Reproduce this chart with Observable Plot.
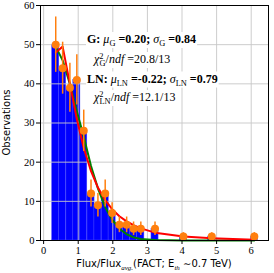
<!DOCTYPE html>
<html><head><meta charset="utf-8">
<script src="https://cdn.jsdelivr.net/npm/d3@7"></script>
<script src="https://cdn.jsdelivr.net/npm/@observablehq/plot@0.6"></script>
<style>body{margin:0;background:#fff} #chart svg{display:block}</style>
</head><body><div id="chart"></div>
<script>
const binCenters = [0.35, 0.55, 0.76, 0.96, 1.16, 1.37, 1.57, 1.78, 1.98, 2.19, 2.40, 2.60, 2.81, 3.22, 4.04, 4.86, 6.09];
const counts     = [50, 44, 39, 41, 28, 12, 9, 12, 7, 4, 4, 3, 3, 3, 1, 1, 1];
const binWidth = 0.205;
const gaussFit = [49.5, 46, 40, 33, 26.5, 19, 13.3, 8.5, 5.3, 3.0, 1.6, 0.8, 0.4, 0.1, 0, 0, 0];
const lognFit  = [48, 49.5, 40, 31, 23.6, 17.7, 13.5, 10.3, 8.0, 6.2, 4.9, 3.9, 3.1, 2.0, 1.0, 0.6, 0.2];
const xTicks = [0, 1, 2, 3, 4, 5, 6];
const yTicks = [0, 10, 20, 30, 40, 50, 60];

const rows = binCenters.map((x, i) => ({
  x, n: counts[i], lo: x - binWidth / 2, hi: x + binWidth / 2,
  err: Math.sqrt(counts[i]), g: gaussFit[i], ln: lognFit[i]
}));

const svg = Plot.plot({
  width: 274, height: 273,
  marginLeft: 40, marginRight: 6, marginTop: 5, marginBottom: 33,
  style: {fontFamily: "'Liberation Serif', serif", fontSize: "10.5px", color: "black", background: "white"},
  x: {domain: [-0.09, 6.5], label: null},
  y: {domain: [0, 60], label: null},
  marks: [
    Plot.rectY(rows, {x1: "lo", x2: "hi", y: "n", fill: "#0000ff", stroke: "#4a4aff", strokeWidth: 0.5}),
    Plot.gridX(xTicks, {stroke: "#c8c8c8", strokeOpacity: 0.9}),
    Plot.gridY(yTicks, {stroke: "#c8c8c8", strokeOpacity: 0.9}),
    Plot.line(rows, {x: "x", y: "g", stroke: "green", strokeWidth: 2}),
    Plot.line(rows, {x: "x", y: "ln", stroke: "red", strokeWidth: 2}),
    Plot.ruleX(rows, {x: "x", y1: d => d.n - d.err, y2: d => d.n + d.err, stroke: "#ff7f0e", strokeWidth: 1.5}),
    Plot.dot(rows, {x: "x", y: "n", r: 4, fill: "#ff7f0e", stroke: "none"}),
    Plot.axisX(xTicks, {tickSize: 4, tickPadding: 2, label: null}),
    Plot.axisY(yTicks, {tickSize: 4, tickPadding: 2, label: null}),
    Plot.frame({stroke: "black", strokeWidth: 1})
  ]
});
document.getElementById("chart").append(svg);

const root = d3.select(svg);

function richText(g, x, y, parts, opts = {}) {
  const t = g.append("text").attr("x", x).attr("y", y)
    .attr("font-family", opts.family || "'Liberation Serif', serif")
    .attr("font-size", opts.size || 12)
    .attr("text-anchor", opts.anchor || "start")
    .attr("fill", "black");
  if (opts.transform) t.attr("transform", opts.transform);
  let shift = 0;
  parts.forEach(p => {
    const s = t.append("tspan").text(p.t);
    const target = p.sub ? 3 : p.sup ? -4 : 0;
    if (target !== shift) s.attr("dy", target - shift);
    shift = target;
    if (p.sub || p.sup) s.attr("font-size", (opts.size || 12) * 0.7);
    if (p.b) s.attr("font-weight", "bold");
    if (p.i) s.attr("font-style", "italic");
    if (p.f) s.attr("font-family", p.f);
    if (p.dx) s.attr("dx", p.dx);
  });
  return t;
}

// annotation
const ann = root.append("g");
const lines = [
  {y: 43, x: 87, parts: [
    {t: "G:", b: 1}, {t: " μ", i: 1}, {t: "G", sub: 1}, {t: " =0.20;", b: 1},
    {t: " σ", i: 1}, {t: "G", sub: 1}, {t: " =0.84", b: 1}]},
  {y: 63, x: 94, parts: [
    {t: "χ", i: 1}, {t: "2", sup: 1}, {t: "G", sub: 1, dx: -4}, {t: "/"}, {t: "ndf", i: 1}, {t: " =20.8/13"}]},
  {y: 82.5, x: 87, parts: [
    {t: "LN:", b: 1}, {t: " μ", i: 1}, {t: "LN", sub: 1}, {t: " =-0.22;", b: 1},
    {t: " σ", i: 1}, {t: "LN", sub: 1}, {t: " =0.79", b: 1}]},
  {y: 101, x: 94, parts: [
    {t: "χ", i: 1}, {t: "2", sup: 1}, {t: "LN", sub: 1, dx: -4}, {t: "/"}, {t: "ndf", i: 1}, {t: " =12.1/13"}]}
];
lines.forEach(l => {
  const t = richText(ann, l.x, l.y, l.parts, {size: 12});
  const bb = t.node().getBBox();
  ann.insert("rect", () => t.node())
    .attr("x", bb.x - 1).attr("y", bb.y).attr("width", bb.width + 2).attr("height", bb.height)
    .attr("fill", "white");
});

// axis labels
richText(root, 0, 0, [{t: "Observations"}],
  {family: "'DejaVu Sans', sans-serif", size: 10, anchor: "middle", transform: "translate(10,122.5) rotate(-90)"});
richText(root, 154, 267, [
  {t: "Flux/Flux"}, {t: "avg.", sub: 1, i: 1, f: "'Liberation Serif', serif"},
  {t: "(FACT; E"}, {t: "th", sub: 1, i: 1, f: "'Liberation Serif', serif"}, {t: " ∼0.7 TeV)"}
], {family: "'DejaVu Sans', sans-serif", size: 10, anchor: "middle"});
</script>
</body></html>
